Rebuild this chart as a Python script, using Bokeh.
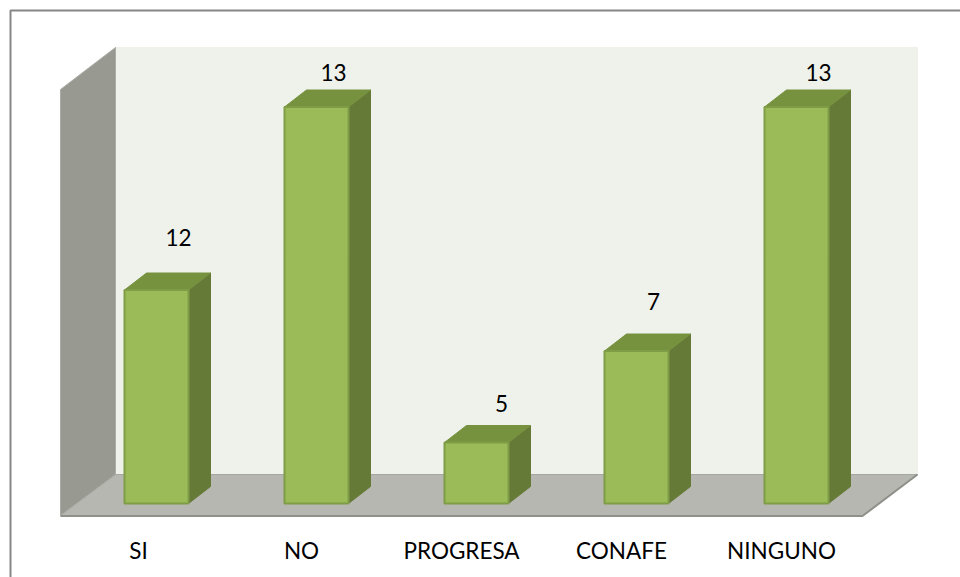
from bokeh.plotting import figure
from bokeh.models import Range1d, ColumnDataSource
from bokeh.core.properties import value
from bokeh.embed import file_html
from bokeh.resources import INLINE

# --- data ---
categories = ["SI", "NO", "PROGRESA", "CONAFE", "NINGUNO"]
bar_heights = [3.5, 6.5, 1.0, 2.5, 6.5]
value_labels = ["12", "13", "5", "7", "13"]

# --- layout ---
W, H = 960, 577
ORG_X, ORG_Y = 0, 0
CAT_PX, UNIT_PX = 160.0, 61.0
X0_PX, Y0_PX = 156.0, 503.0
BAR_W = 0.4
DX, DY = 22 / CAT_PX, 17 / UNIT_PX
LABEL_LIFT_PX = [53, 35, 39, 50, 35]
LABEL_SHIFT_PX = [22, 17, 25, 17, 22]
FONT = value("Lato")
FONT_SIZE = "22.5px"


def px(x):
    return (x - X0_PX) / CAT_PX


def py(y):
    return (Y0_PX - y) / UNIT_PX


p = figure(width=W, height=H, output_backend="svg", toolbar_location=None,
           x_range=Range1d(px(ORG_X), px(ORG_X + W)),
           y_range=Range1d(py(ORG_Y + H), py(ORG_Y)),
           min_border=0, min_border_left=0, min_border_right=0,
           min_border_top=0, min_border_bottom=0)
p.axis.visible = False
p.grid.visible = False
p.outline_line_color = None
p.background_fill_color = "white"
p.border_fill_color = "white"


def poly(points, fill, line=None, width=1):
    p.patch([px(a) for a, _ in points], [py(b) for _, b in points],
            fill_color=fill, line_color=line if line else fill, line_width=width)


# chart frame: only its top and left edges lie inside the picture
p.line([px(10), px(10), px(960)], [py(577), py(10), py(10)],
       line_color="#868686", line_width=2)

# walls and floor
poly([(115, 47), (917, 47), (917, 474), (115, 474)], "#EFF1EB", "#EFF1EB")
poly([(60, 89), (115, 47), (115, 474), (60, 515)], "#989A92", "#A9ABA4")
poly([(60, 515), (115, 474), (917, 474), (862, 515)], "#B5B7B0", "#A5A7A0")
p.line([px(60), px(862), px(917)], [py(515.5), py(515.5), py(474)],
       line_color="#8E908A", line_width=2)

# bars
for i, h in enumerate(bar_heights):
    l, r = i - BAR_W / 2, i + BAR_W / 2
    p.patch([r, r + DX, r + DX, r], [0, DY, h + DY, h],
            fill_color="#667A37", line_color="#667A37", line_width=1)
    p.patch([l, l + DX, r + DX, r], [h, h + DY, h + DY, h],
            fill_color="#76923F", line_color="#76923F", line_width=1)
    p.quad(left=l, right=r, bottom=0, top=h,
           fill_color="#9BBB59", line_color="#7F9C47", line_width=2)

# value labels
src = ColumnDataSource(dict(
    x=[i + LABEL_SHIFT_PX[i] / CAT_PX for i in range(len(categories))],
    y=[bar_heights[i] + LABEL_LIFT_PX[i] / UNIT_PX for i in range(len(categories))],
    t=value_labels))
p.text("x", "y", text="t", source=src, text_font=FONT, text_font_size=FONT_SIZE,
       text_color="#000000", text_align="center", text_baseline="middle")

# category labels
cat_x_px = [138, 301, 461, 621, 781]
src2 = ColumnDataSource(dict(x=[px(v) for v in cat_x_px],
                             y=[py(550)] * len(categories), t=categories))
p.text("x", "y", text="t", source=src2, text_font=FONT, text_font_size=FONT_SIZE,
       text_color="#000000", text_align="center", text_baseline="middle")

open("out.html", "w").write(file_html(p, INLINE))
